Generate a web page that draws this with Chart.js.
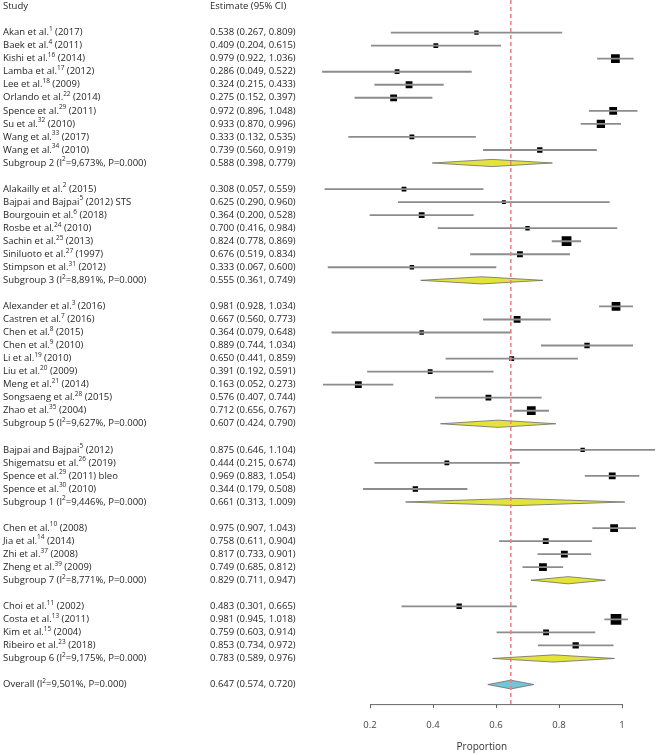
<!DOCTYPE html>
<html>
<head>
<meta charset="utf-8">
<title>Forest plot</title>
<script src="https://cdn.jsdelivr.net/npm/chart.js@4.4.1/dist/chart.umd.min.js"></script>
<style>
  html, body { margin: 0; padding: 0; background: #fff; }
  #wrap { width: 659px; height: 755px; }
</style>
</head>
<body>
<div id="wrap"><canvas id="forest" width="659" height="755"></canvas></div>
<script>
// datos del forest plot
const groupSizes = [10, 7, 9, 4, 4, 4];

const studyLabels = [
  'Akan et al.^{1} (2017)', 'Baek et al.^{4} (2011)', 'Kishi et al.^{16} (2014)', 'Lamba et al.^{17} (2012)',
  'Lee et al.^{18} (2009)', 'Orlando et al.^{22} (2014)', 'Spence et al.^{29} (2011)', 'Su et al.^{32} (2010)',
  'Wang et al.^{33} (2017)', 'Wang et al.^{34} (2010)',
  'Alakailly et al.^{2} (2015)', 'Bajpai and Bajpai^{5} (2012) STS', 'Bourgouin et al.^{6} (2018)',
  'Rosbe et al.^{24} (2010)', 'Sachin et al.^{25} (2013)', 'Siniluoto et al.^{27} (1997)', 'Stimpson et al.^{31} (2012)',
  'Alexander et al.^{3} (2016)', 'Castren et al.^{7} (2016)', 'Chen et al.^{8} (2015)', 'Chen et al.^{9} (2010)',
  'Li et al.^{19} (2010)', 'Liu et al.^{20} (2009)', 'Meng et al.^{21} (2014)', 'Songsaeng et al.^{28} (2015)',
  'Zhao et al.^{35} (2004)',
  'Bajpai and Bajpai^{5} (2012)', 'Shigematsu et al.^{26} (2019)', 'Spence et al.^{29} (2011) bleo', 'Spence et al.^{30} (2010)',
  'Chen et al.^{10} (2008)', 'Jia et al.^{14} (2014)', 'Zhi et al.^{37} (2008)', 'Zheng et al.^{39} (2009)',
  'Choi et al.^{11} (2002)', 'Costa et al.^{13} (2011)', 'Kim et al.^{15} (2004)', 'Ribeiro et al.^{23} (2018)'
];
const studyEst = [
  0.538, 0.409, 0.979, 0.286, 0.324, 0.275, 0.972, 0.933, 0.333, 0.739,
  0.308, 0.625, 0.364, 0.700, 0.824, 0.676, 0.333,
  0.981, 0.667, 0.364, 0.889, 0.650, 0.391, 0.163, 0.576, 0.712,
  0.875, 0.444, 0.969, 0.344,
  0.975, 0.758, 0.817, 0.749,
  0.483, 0.981, 0.759, 0.853
];
const studyLow = [
  0.267, 0.204, 0.922, 0.049, 0.215, 0.152, 0.896, 0.870, 0.132, 0.560,
  0.057, 0.290, 0.200, 0.416, 0.778, 0.519, 0.067,
  0.928, 0.560, 0.079, 0.744, 0.441, 0.192, 0.052, 0.407, 0.656,
  0.646, 0.215, 0.883, 0.179,
  0.907, 0.611, 0.733, 0.685,
  0.301, 0.945, 0.603, 0.734
];
const studyHigh = [
  0.809, 0.615, 1.036, 0.522, 0.433, 0.397, 1.048, 0.996, 0.535, 0.919,
  0.559, 0.960, 0.528, 0.984, 0.869, 0.834, 0.600,
  1.034, 0.773, 0.648, 1.034, 0.859, 0.591, 0.273, 0.744, 0.767,
  1.104, 0.674, 1.054, 0.508,
  1.043, 0.904, 0.901, 0.812,
  0.665, 1.018, 0.914, 0.972
];
// peso relativo de cada estudio (tamano del cuadrado)
const studyWeight = [
  2.0, 2.4, 7.9, 2.4, 4.8, 4.8, 6.3, 7.1, 2.4, 3.0,
  2.4, 1.6, 3.5, 2.0, 9.8, 3.5, 2.0,
  7.9, 4.8, 2.0, 3.0, 2.4, 2.4, 4.8, 3.5, 7.9,
  2.0, 2.4, 4.8, 3.0,
  6.3, 3.5, 4.8, 6.3,
  3.0, 11.8, 3.5, 4.1
];

const subgroupLabels = [
  'Subgroup 2 (I^{2}=9,673%, P=0.000)', 'Subgroup 3 (I^{2}=8,891%, P=0.000)', 'Subgroup 5 (I^{2}=9,627%, P=0.000)',
  'Subgroup 1 (I^{2}=9,446%, P=0.000)', 'Subgroup 7 (I^{2}=8,771%, P=0.000)', 'Subgroup 6 (I^{2}=9,175%, P=0.000)'
];
const subgroupEst = [0.588, 0.555, 0.607, 0.661, 0.829, 0.783];
const subgroupLow = [0.398, 0.361, 0.424, 0.313, 0.711, 0.589];
const subgroupHigh = [0.779, 0.749, 0.790, 1.009, 0.947, 0.976];

const overallLabel = 'Overall (I^{2}=9,501%, P=0.000)';
const overallEst = 0.647;
const overallLow = 0.574;
const overallHigh = 0.720;

const tickValues = [0.2, 0.4, 0.6, 0.8, 1];
const tickLabels = ['0.2', '0.4', '0.6', '0.8', '1'];

// filas: estudios, fila de subgrupo y una fila en blanco por grupo
const studyRows = [];
const subgroupRows = [];
let fila = 0;
groupSizes.forEach(n => {
  for (let i = 0; i < n; i++) studyRows.push(fila++);
  subgroupRows.push(fila++);
  fila++;
});
const overallRow = fila;

const FONT = '"Open Sans", "Noto Sans", sans-serif';
const TXT = 9.5;

function fmt(v) { return v.toFixed(3); }

// texto con superindices marcados como ^{..}
function drawRich(ctx, text, x, y) {
  const partes = text.split(/\^\{([^}]*)\}/);
  let cx = x;
  partes.forEach((p, i) => {
    if (!p) return;
    if (i % 2 === 1) {
      ctx.font = '6.5px ' + FONT;
      ctx.fillText(p, cx, y - 3.5);
    } else {
      ctx.font = TXT + 'px ' + FONT;
      ctx.fillText(p, cx, y);
    }
    cx += ctx.measureText(p).width;
  });
}

function diamond(ctx, xs, ys, lo, est, hi, row, h, fill) {
  const y = ys.getPixelForValue(row);
  ctx.beginPath();
  ctx.moveTo(xs.getPixelForValue(lo), y);
  ctx.lineTo(xs.getPixelForValue(est), y - h);
  ctx.lineTo(xs.getPixelForValue(hi), y);
  ctx.lineTo(xs.getPixelForValue(est), y + h);
  ctx.closePath();
  ctx.fillStyle = fill;
  ctx.fill();
  ctx.strokeStyle = '#6b6b6b';
  ctx.lineWidth = 0.8;
  ctx.stroke();
}

const forestPlugin = {
  id: 'forestExtras',
  beforeDatasetsDraw(chart) {
    const { ctx, scales: { x, y } } = chart;
    ctx.save();
    subgroupEst.forEach((e, i) => {
      diamond(ctx, x, y, subgroupLow[i], e, subgroupHigh[i], subgroupRows[i], 3.6, '#e3e33c');
    });
    diamond(ctx, x, y, overallLow, overallEst, overallHigh, overallRow, 4.4, '#74c6d6');
    ctx.restore();
  },
  afterDatasetsDraw(chart) {
    const { ctx, chartArea, scales: { x } } = chart;
    ctx.save();
    // linea vertical del efecto global
    const px = x.getPixelForValue(overallEst);
    ctx.strokeStyle = '#ef7f86';
    ctx.lineWidth = 1.5;
    ctx.setLineDash([4, 3]);
    ctx.beginPath();
    ctx.moveTo(px, chartArea.top);
    ctx.lineTo(px, chartArea.bottom);
    ctx.stroke();
    // eje solo entre 0.2 y 1
    ctx.setLineDash([]);
    ctx.strokeStyle = '#666';
    ctx.lineWidth = 1;
    ctx.beginPath();
    ctx.moveTo(x.getPixelForValue(tickValues[0]), chartArea.bottom + 0.5);
    ctx.lineTo(x.getPixelForValue(tickValues[tickValues.length - 1]), chartArea.bottom + 0.5);
    ctx.stroke();
    ctx.restore();
  },
  afterDraw(chart) {
    const { ctx, scales: { y } } = chart;
    ctx.save();
    ctx.fillStyle = '#262626';
    ctx.textBaseline = 'middle';
    ctx.textAlign = 'left';
    const colEst = 210;
    const hy = y.getPixelForValue(-2);
    drawRich(ctx, 'Study', 3, hy);
    drawRich(ctx, 'Estimate (95% CI)', colEst, hy);
    studyLabels.forEach((lab, i) => {
      const py = y.getPixelForValue(studyRows[i]);
      drawRich(ctx, lab, 3, py);
      drawRich(ctx, fmt(studyEst[i]) + ' (' + fmt(studyLow[i]) + ', ' + fmt(studyHigh[i]) + ')', colEst, py);
    });
    subgroupLabels.forEach((lab, i) => {
      const py = y.getPixelForValue(subgroupRows[i]);
      drawRich(ctx, lab, 3, py);
      drawRich(ctx, fmt(subgroupEst[i]) + ' (' + fmt(subgroupLow[i]) + ', ' + fmt(subgroupHigh[i]) + ')', colEst, py);
    });
    const oy = y.getPixelForValue(overallRow);
    drawRich(ctx, overallLabel, 3, oy);
    drawRich(ctx, fmt(overallEst) + ' (' + fmt(overallLow) + ', ' + fmt(overallHigh) + ')', colEst, oy);
    ctx.restore();
  }
};

new Chart(document.getElementById('forest'), {
  type: 'bar',
  data: {
    datasets: [
      {
        type: 'bar',
        indexAxis: 'y',
        data: studyRows.map((r, i) => ({ x: [studyLow[i], studyHigh[i]], y: r })),
        backgroundColor: '#8c8c8c',
        borderWidth: 0,
        barThickness: 1.2,
        grouped: false
      },
      {
        type: 'scatter',
        data: studyRows.map((r, i) => ({ x: studyEst[i], y: r })),
        pointStyle: 'rect',
        pointRadius: studyWeight.map(w => 2.2 * Math.sqrt(w)),
        backgroundColor: '#000',
        borderWidth: 0
      }
    ]
  },
  options: {
    responsive: false,
    animation: false,
    devicePixelRatio: 1,
    indexAxis: 'y',
    layout: { autoPadding: false, padding: { left: 307, right: 2.35, top: 0, bottom: 1.5 } },
    plugins: { legend: { display: false }, tooltip: { enabled: false } },
    scales: {
      y: {
        type: 'linear',
        reverse: true,
        offset: false,
        min: -2.5,
        max: overallRow + 1.5,
        display: false
      },
      x: {
        type: 'linear',
        min: 0,
        max: 1.11,
        afterBuildTicks: scale => { scale.ticks = tickValues.map(v => ({ value: v })); },
        border: { display: false },
        grid: { drawOnChartArea: false, drawTicks: true, tickLength: 4, color: '#666' },
        ticks: {
          padding: 11,
          color: '#444',
          font: { family: FONT, size: TXT },
          maxRotation: 0,
          callback: (v, i) => tickLabels[i]
        },
        title: {
          display: true,
          text: 'Proportion',
          color: '#333',
          font: { family: FONT, size: 10 },
          padding: { top: 0, bottom: 0 }
        }
      }
    }
  },
  plugins: [forestPlugin]
});
</script>
</body>
</html>
